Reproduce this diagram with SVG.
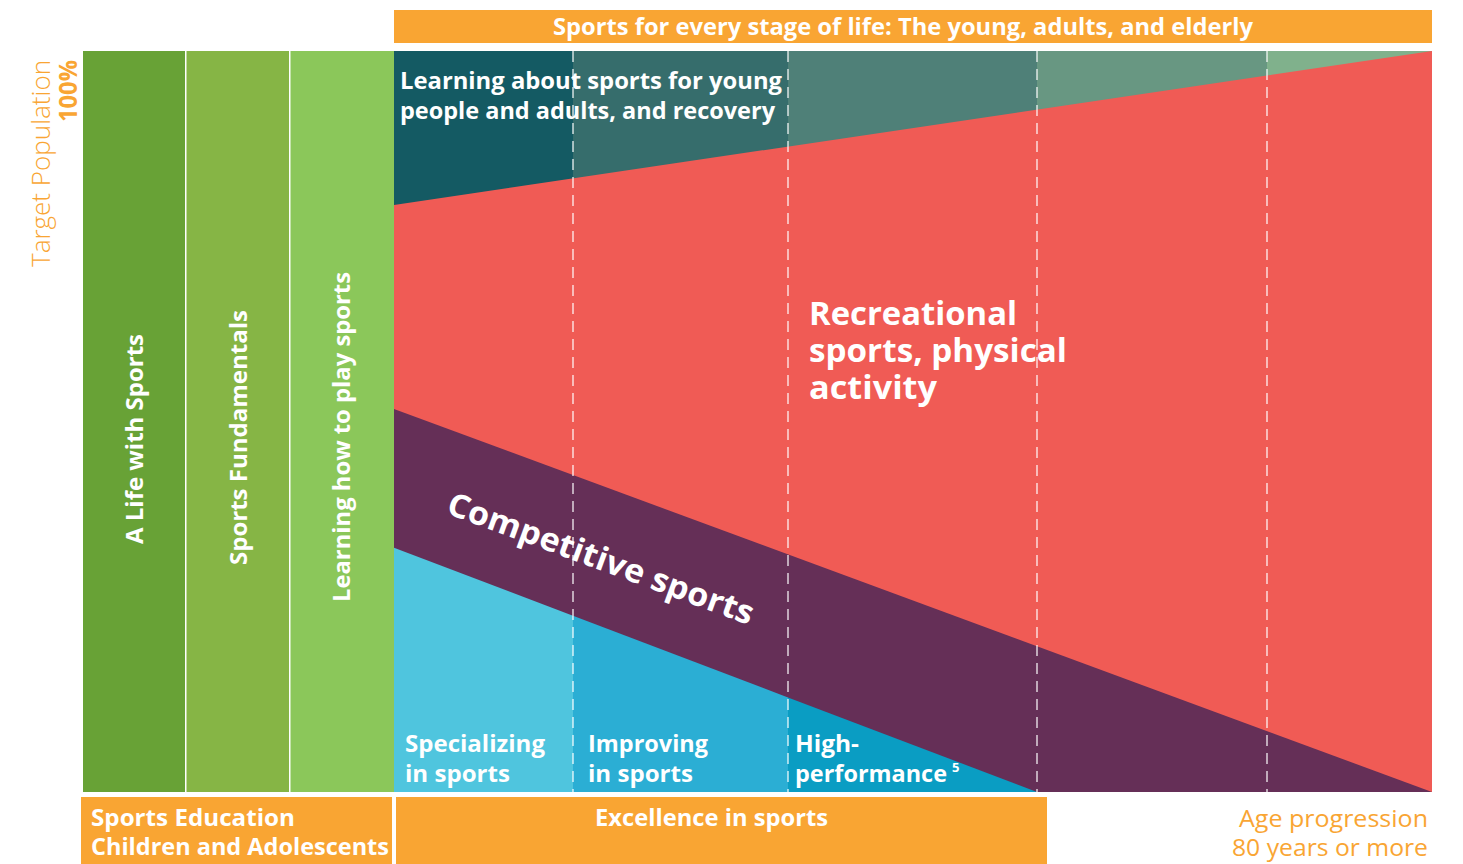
<svg xmlns="http://www.w3.org/2000/svg" width="1463" height="864" viewBox="0 0 1463 864">
<style>
.w{fill:#ffffff;font-family:"Open Sans",Lato,sans-serif;font-weight:700}
.o{fill:#f9a533;font-family:"Open Sans",Lato,sans-serif}
.dash{stroke:#ffffff;stroke-opacity:0.75;stroke-width:1.6;stroke-dasharray:11 7;fill:none}
</style>
<rect width="1463" height="864" fill="#ffffff"/>

<g id="axis-label">
<text class="o" font-size="25" font-weight="300" transform="translate(50,60) rotate(-90)" text-anchor="end" textLength="207" lengthAdjust="spacingAndGlyphs">Target Population</text>
<text class="o" font-size="25" font-weight="700" transform="translate(77,60) rotate(-90)" text-anchor="end" textLength="62" lengthAdjust="spacingAndGlyphs">100%</text>
</g>

<g id="header">
<rect x="394" y="10" width="1038" height="33" fill="#f9a533"/>
<text class="w" x="553" y="35" font-size="23.5" textLength="700" lengthAdjust="spacingAndGlyphs">Sports for every stage of life: The young, adults, and elderly</text>
</g>

<g id="col-life">
<rect x="83" y="51" width="102" height="741" fill="#68a236"/>
<text class="w" font-size="24" transform="translate(143,439) rotate(-90)" text-anchor="middle" textLength="210" lengthAdjust="spacingAndGlyphs">A Life with Sports</text>
</g>
<g id="col-fundamentals">
<rect x="186.5" y="51" width="102.5" height="741" fill="#86b545"/>
<text class="w" font-size="24" transform="translate(247,437.5) rotate(-90)" text-anchor="middle" textLength="255" lengthAdjust="spacingAndGlyphs">Sports Fundamentals</text>
</g>
<g id="col-learning">
<rect x="290.5" y="51" width="103.5" height="741" fill="#8bc75a"/>
<text class="w" font-size="24" transform="translate(350,437) rotate(-90)" text-anchor="middle" textLength="330" lengthAdjust="spacingAndGlyphs">Learning how to play sports</text>
</g>

<g id="learning-band">
<rect x="394" y="51" width="179" height="741" fill="#145a63"/>
<rect x="573" y="51" width="215" height="741" fill="#366d6c"/>
<rect x="788" y="51" width="249" height="741" fill="#4f8078"/>
<rect x="1037" y="51" width="230" height="741" fill="#689782"/>
<rect x="1267" y="51" width="165" height="741" fill="#80b18c"/>
<text class="w" font-size="24" x="400" y="89" textLength="382" lengthAdjust="spacingAndGlyphs">Learning about sports for young</text>
<text class="w" font-size="24" x="400" y="119" textLength="375" lengthAdjust="spacingAndGlyphs">people and adults, and recovery</text>
</g>

<g id="recreational">
<polygon points="394,205 1432,51 1432,792 394,792" fill="#f05b55"/>
<text class="w" font-size="33" x="809" y="325" textLength="208" lengthAdjust="spacingAndGlyphs">Recreational</text>
<text class="w" font-size="33" x="809" y="362" textLength="258" lengthAdjust="spacingAndGlyphs">sports, physical</text>
<text class="w" font-size="33" x="809" y="399" textLength="128" lengthAdjust="spacingAndGlyphs">activity</text>
</g>

<g id="competitive">
<polygon points="394,409 1432,792 394,792" fill="#652f57"/>
</g>

<g id="specializing">
<polygon points="394,547.7 573,615.7 573,792 394,792" fill="#4fc5de"/>
<text class="w" font-size="23.5" x="405" y="752" textLength="140" lengthAdjust="spacingAndGlyphs">Specializing</text>
<text class="w" font-size="23.5" x="405" y="782" textLength="105" lengthAdjust="spacingAndGlyphs">in sports</text>
</g>
<g id="improving">
<polygon points="573,615.7 788,697.4 788,792 573,792" fill="#2baed4"/>
<text class="w" font-size="23.5" x="588" y="752" textLength="120" lengthAdjust="spacingAndGlyphs">Improving</text>
<text class="w" font-size="23.5" x="588" y="782" textLength="105" lengthAdjust="spacingAndGlyphs">in sports</text>
</g>
<g id="high-performance">
<polygon points="788,697.4 1037,792 788,792" fill="#0a9dc3"/>
<text class="w" font-size="23.5" x="795" y="752" textLength="64" lengthAdjust="spacingAndGlyphs">High-</text>
<text class="w" font-size="23.5" x="795" y="782" textLength="152" lengthAdjust="spacingAndGlyphs">performance</text>
<text class="w" font-size="13" x="952" y="772">5</text>
</g>

<g id="competitive-label">
<text class="w" font-size="32.5" transform="translate(597,569) rotate(20.25)" text-anchor="middle" textLength="324" lengthAdjust="spacingAndGlyphs">Competitive sports</text>
</g>

<g id="connectors">
<line class="dash" x1="573" y1="51" x2="573" y2="792"/>
<line class="dash" x1="788" y1="51" x2="788" y2="792"/>
<line class="dash" x1="1037" y1="51" x2="1037" y2="792"/>
<line class="dash" x1="1267" y1="51" x2="1267" y2="792"/>
</g>

<g id="footer-education">
<rect x="81" y="797" width="311" height="67" fill="#f9a533"/>
<text class="w" font-size="23.5" x="91" y="826" textLength="204" lengthAdjust="spacingAndGlyphs">Sports Education</text>
<text class="w" font-size="23.5" x="91" y="855" textLength="298" lengthAdjust="spacingAndGlyphs">Children and Adolescents</text>
</g>
<g id="footer-excellence">
<rect x="396" y="797" width="651" height="67" fill="#f9a533"/>
<text class="w" x="595" y="826" font-size="23.5" textLength="233" lengthAdjust="spacingAndGlyphs">Excellence in sports</text>
</g>
<g id="footer-age">
<text class="o" font-size="24.5" font-weight="400" x="1239" y="827" textLength="189" lengthAdjust="spacingAndGlyphs">Age progression</text>
<text class="o" font-size="24.5" font-weight="400" x="1232" y="856" textLength="196" lengthAdjust="spacingAndGlyphs">80 years or more</text>
</g>
</svg>
